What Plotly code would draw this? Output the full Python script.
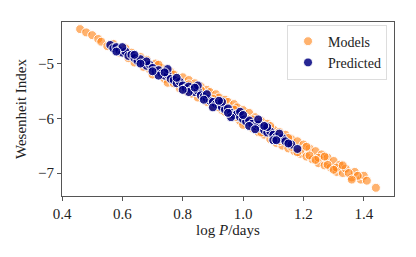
import plotly.graph_objects as go

models_x = [0.46, 0.48, 0.50, 0.52, 0.53, 0.55, 0.57, 0.59, 0.61, 0.63, 0.64, 0.66, 0.68, 0.69, 0.71,
            0.73, 0.74, 0.76, 0.77, 0.79, 0.80, 0.82, 0.83, 0.84, 0.86, 0.87, 0.88, 0.89, 0.90, 0.91,
            0.92, 0.93, 0.94, 0.95, 0.96, 0.97, 0.98, 0.99, 1.00, 1.01, 1.02, 1.03, 1.04, 1.05, 1.06,
            1.07, 1.08, 1.09, 1.10, 1.11, 1.12, 1.13, 1.14, 1.15, 1.16, 1.17, 1.18, 1.19, 1.20, 1.21,
            1.22, 1.23, 1.24, 1.25, 1.26, 1.27, 1.28, 1.29, 1.30, 1.31, 1.32, 1.33, 1.34, 1.36, 1.37,
            1.39, 1.40, 1.41, 1.44,
            0.70, 0.75, 0.78, 0.81, 0.85, 0.88, 0.92, 0.95, 0.98, 1.01, 1.04, 1.07, 1.10, 1.13, 1.16,
            1.19, 1.22, 1.25, 1.28, 1.31, 1.35, 1.38,
            0.62, 0.67, 0.72, 0.77, 0.82, 0.86, 0.90, 0.94, 0.97, 1.00, 1.03, 1.06, 1.09, 1.12, 1.15,
            1.18, 1.21, 1.24, 1.27, 1.30, 1.33, 1.36]
models_y = [-4.37, -4.43, -4.48, -4.55, -4.60, -4.68, -4.64, -4.80, -4.72, -4.80, -4.98, -4.88, -4.93, -5.10, -5.00,
            -5.08, -5.28, -5.15, -5.20, -5.45, -5.25, -5.30, -5.55, -5.36, -5.42, -5.65, -5.48, -5.52, -5.78, -5.56,
            -5.62, -5.85, -5.66, -5.70, -5.95, -5.74, -5.80, -6.05, -5.85, -6.10, -5.90, -6.18, -5.98, -6.25, -6.05,
            -6.30, -6.10, -6.38, -6.20, -6.45, -6.25, -6.50, -6.30, -6.55, -6.38, -6.60, -6.42, -6.65, -6.48, -6.70,
            -6.55, -6.75, -6.60, -6.82, -6.66, -6.86, -6.72, -6.90, -6.78, -6.98, -6.85, -7.00, -6.92, -7.08, -6.98,
            -7.12, -7.05, -7.14, -7.27,
            -5.20, -5.35, -5.30, -5.50, -5.62, -5.70, -5.80, -5.92, -5.98, -6.00, -6.18, -6.22, -6.35, -6.40, -6.52,
            -6.58, -6.68, -6.72, -6.85, -6.90, -7.00, -7.05,
            -4.90, -5.06, -5.02, -5.36, -5.38, -5.48, -5.64, -5.88, -5.84, -6.12, -6.02, -6.26, -6.14, -6.42, -6.36,
            -6.62, -6.52, -6.76, -6.70, -6.94, -6.86, -7.12]

pred_x = [0.56, 0.57, 0.58, 0.59, 0.60, 0.61, 0.62, 0.63, 0.64, 0.65, 0.66, 0.67, 0.68, 0.69, 0.70,
          0.71, 0.72, 0.73, 0.74, 0.75, 0.76, 0.77, 0.78, 0.79, 0.80, 0.81, 0.82, 0.83, 0.84, 0.85,
          0.86, 0.87, 0.88, 0.89, 0.90, 0.91, 0.92, 0.93, 0.94, 0.95, 0.96, 0.97, 0.98, 0.99, 1.00,
          1.01, 1.02, 1.03, 1.04, 1.05, 1.06, 1.07, 1.08, 1.09, 1.10, 1.11, 1.12, 1.13, 1.14, 1.16,
          1.18,
          0.60, 0.64, 0.68, 0.72, 0.75, 0.78, 0.82, 0.85, 0.88, 0.90, 0.93, 0.96, 0.99, 1.02, 1.05,
          1.08, 1.10, 1.12, 1.15,
          0.58, 0.66, 0.70, 0.74, 0.80, 0.84, 0.87, 0.92, 0.95, 1.00, 1.04, 1.07, 1.11]
pred_y = [-4.66, -4.72, -4.70, -4.76, -4.80, -4.78, -4.86, -4.84, -4.90, -4.95, -4.92, -5.00, -5.04, -5.02, -5.08,
          -5.14, -5.12, -5.18, -5.22, -5.20, -5.28, -5.30, -5.36, -5.33, -5.40, -5.45, -5.42, -5.48, -5.52, -5.50,
          -5.58, -5.60, -5.64, -5.68, -5.70, -5.74, -5.76, -5.80, -5.84, -5.82, -5.90, -5.94, -5.92, -5.98, -6.02,
          -6.06, -6.04, -6.10, -6.14, -6.12, -6.18, -6.22, -6.26, -6.24, -6.30, -6.34, -6.38, -6.36, -6.42, -6.48,
          -6.56,
          -4.70, -4.84, -4.96, -5.22, -5.10, -5.26, -5.52, -5.40, -5.56, -5.80, -5.70, -5.98, -5.88, -6.14, -6.02,
          -6.16, -6.40, -6.28, -6.46,
          -4.78, -5.00, -5.14, -5.16, -5.48, -5.44, -5.66, -5.68, -5.90, -5.94, -6.20, -6.14, -6.40]

x_ticks = [0.4, 0.6, 0.8, 1.0, 1.2, 1.4]
y_ticks = [-7, -6, -5]

font = "Liberation Serif"

fig = go.Figure()
fig.add_trace(go.Scatter(
    x=models_x, y=models_y, mode="markers", name="Models",
    marker=dict(size=9, color="rgba(255,127,14,0.6)", line=dict(color="white", width=1)),
))
fig.add_trace(go.Scatter(
    x=pred_x, y=pred_y, mode="markers", name="Predicted",
    marker=dict(size=9, color="rgba(0,0,128,0.85)", line=dict(color="white", width=1)),
))

axis_common = dict(showline=True, mirror=True, linecolor="#555", linewidth=1,
                   ticks="outside", ticklen=4, tickcolor="#555", showgrid=False, zeroline=False,
                   automargin=False,
                   tickfont=dict(family=font, size=15, color="#222"))

fig.update_layout(
    width=400, height=241,
    margin=dict(l=54, r=14, t=14, b=53),
    paper_bgcolor="white", plot_bgcolor="white",
    font=dict(family=font, size=15, color="#222"),
    showlegend=True,
    legend=dict(x=0.979, y=0.985, xanchor="right", yanchor="top",
                bgcolor="rgba(255,255,255,0.8)", bordercolor="#ddd", borderwidth=1,
                tracegroupgap=0,
                font=dict(family=font, size=14, color="#222")),
    xaxis=dict(range=[0.4, 1.5], tickvals=x_ticks, ticktext=[f"{v:.1f}" for v in x_ticks],
               title=dict(text="log <i>P</i>/days", font=dict(family=font, size=15), standoff=3),
               **axis_common),
    yaxis=dict(range=[-7.42, -4.24], tickvals=y_ticks, ticktext=["\u22127", "\u22126", "\u22125"],
               title=dict(text="Wesenheit Index", font=dict(family=font, size=15), standoff=7),
               **axis_common),
)

fig.write_html("out.html")
